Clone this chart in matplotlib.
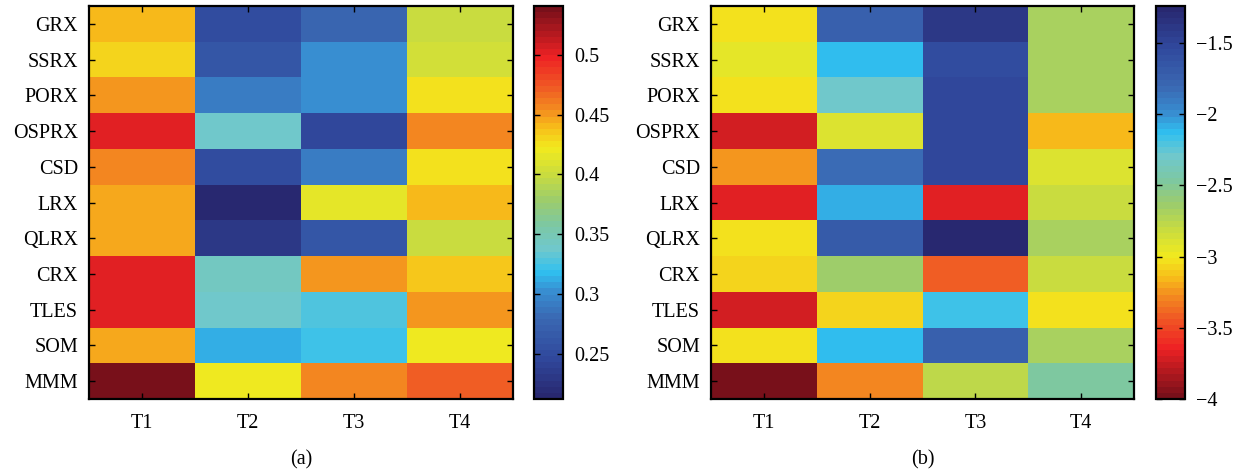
import numpy as np
import matplotlib
matplotlib.use('Agg')
import matplotlib.pyplot as plt
from matplotlib.colors import LinearSegmentedColormap

plt.rcParams['font.family'] = ['Liberation Serif', 'DejaVu Serif']

methods = ['GRX', 'SSRX', 'PORX', 'OSPRX', 'CSD', 'LRX', 'QLRX', 'CRX', 'TLES', 'SOM', 'MMM']
tests = ['T1', 'T2', 'T3', 'T4']

# panel (a)
t1_a = [0.441, 0.431, 0.450, 0.500, 0.457, 0.447, 0.447, 0.500, 0.500, 0.447, 0.540]
t2_a = [0.252, 0.262, 0.290, 0.337, 0.252, 0.215, 0.228, 0.344, 0.339, 0.313, 0.421]
t3_a = [0.278, 0.300, 0.300, 0.245, 0.290, 0.413, 0.262, 0.450, 0.330, 0.325, 0.457]
t4_a = [0.400, 0.406, 0.423, 0.457, 0.424, 0.442, 0.400, 0.437, 0.450, 0.418, 0.472]

# panel (b)
t1_b = [-3.01, -2.965, -3.02, -3.72, -3.23, -3.67, -3.02, -3.08, -3.72, -3.02, -4.00]
t2_b = [-1.74, -2.12, -2.29, -2.88, -1.82, -2.07, -1.71, -2.63, -3.08, -2.12, -3.28]
t3_b = [-1.41, -1.57, -1.52, -1.52, -1.52, -3.67, -1.24, -3.43, -2.15, -1.74, -2.77]
t4_b = [-2.69, -2.69, -2.70, -3.14, -2.88, -2.83, -2.69, -2.83, -3.02, -2.70, -2.48]

# colour scale sampled from the colourbar (fraction from bottom)
cmap_stops = [
    (0.000, '#282870'), (0.097, '#30489c'), (0.200, '#3a68b2'), (0.268, '#388cd0'),
    (0.320, '#30c0f0'), (0.380, '#70c8cc'), (0.440, '#7cc8a4'), (0.505, '#9ccc6c'),
    (0.570, '#c8dc40'), (0.640, '#f2ea1e'), (0.700, '#f7b81a'), (0.735, '#f4901f'),
    (0.800, '#f05824'), (0.875, '#ee2224'), (1.000, '#78101a'),
]
cmap = LinearSegmentedColormap.from_list('paper', cmap_stops, N=64)

W, H = 1242, 471
fig = plt.figure(figsize=(W / 100, H / 100), dpi=100)
FS = 14.5


def px_axes(x0, y0, x1, y1):
    return fig.add_axes([x0 / W, 1 - y1 / H, (x1 - x0) / W, (y1 - y0) / H])


def style(ax):
    for s in ax.spines.values():
        s.set_linewidth(1.6)
    ax.tick_params(direction='in', length=4, width=1.0, top=True, right=True,
                   labelsize=FS, pad=8)


def panel(box, cbox, data, vmin, vmax, cm, cticks, clabels, caption):
    ax = px_axes(*box)
    im = ax.pcolormesh(np.arange(5), np.arange(12), data, cmap=cm, vmin=vmin, vmax=vmax)
    ax.set_xlim(0, 4)
    ax.set_ylim(11, 0)
    ax.set_xticks(np.arange(4) + 0.5)
    ax.set_xticklabels(tests)
    ax.set_yticks(np.arange(11) + 0.5)
    ax.set_yticklabels(methods)
    style(ax)
    ax.tick_params(axis='x', pad=11)
    cax = px_axes(*cbox)
    cb = fig.colorbar(im, cax=cax)
    cb.set_ticks(cticks)
    cb.set_ticklabels(clabels)
    cb.outline.set_linewidth(1.6)
    cax.tick_params(direction='in', length=4, width=1.0, left=True, right=True,
                    labelsize=FS, pad=8)
    xc = (box[0] + box[2]) / 2 / W
    fig.text(xc, 1 - 460 / H, caption, ha='center', va='center', fontsize=FS)


data_a = np.column_stack([t1_a, t2_a, t3_a, t4_a])
data_b = np.column_stack([t1_b, t2_b, t3_b, t4_b])

panel((89, 6, 513, 399), (534, 6, 563, 399), data_a, 0.212, 0.541, cmap,
      [0.25, 0.3, 0.35, 0.4, 0.45, 0.5], ['0.25', '0.3', '0.35', '0.4', '0.45', '0.5'], '(a)')
panel((711, 6, 1134, 399), (1156, 6, 1185, 399), data_b, -4.0, -1.24, cmap.reversed(),
      [-4, -3.5, -3, -2.5, -2, -1.5], ['\u22124', '\u22123.5', '\u22123', '\u22122.5', '\u22122', '\u22121.5'], '(b)')

fig.savefig('out.png', dpi=100)
